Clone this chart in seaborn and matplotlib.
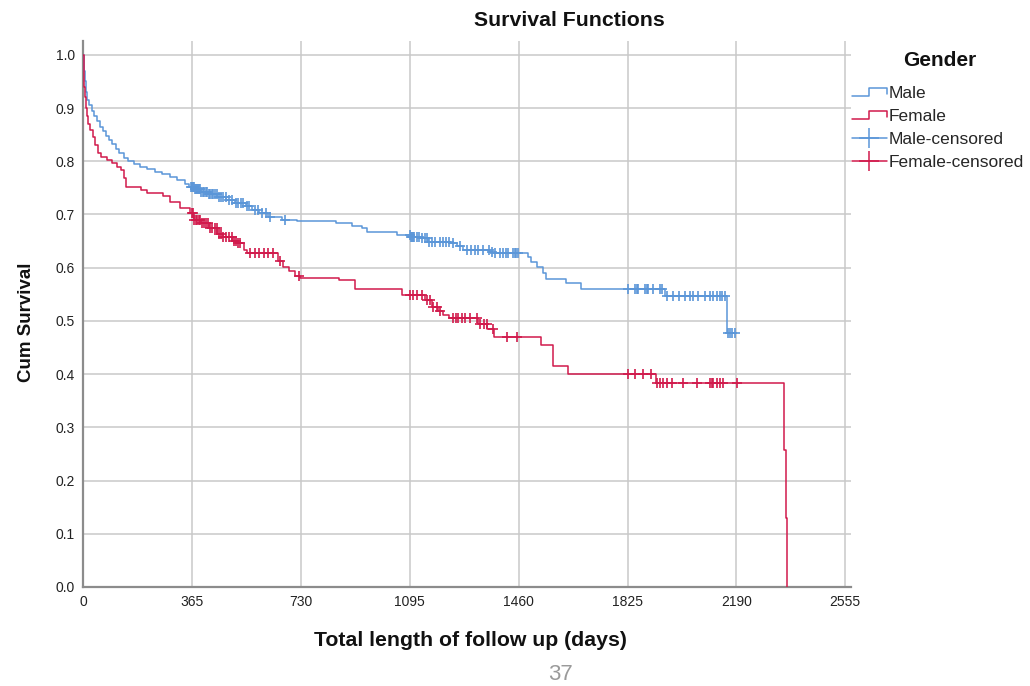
import numpy as np
import pandas as pd
import matplotlib
matplotlib.use("Agg")
import matplotlib.pyplot as plt
import seaborn as sns
from matplotlib.lines import Line2D
from matplotlib.legend_handler import HandlerBase

# ---------------- data ----------------
male_days = [0, 2, 5, 9, 14, 20, 28, 36, 45, 55, 65, 75, 85, 95, 108, 120, 135, 150, 170, 190,
             215, 240, 265, 290, 315, 340, 355, 375, 395, 420, 450, 480, 510, 545, 565, 590, 620,
             665, 715, 846, 900, 933, 950, 1051, 1096, 1130, 1157, 1230, 1252, 1274, 1364, 1375,
             1490, 1502, 1522, 1542, 1550, 1618, 1668, 1950, 2158]
male_surv = [1.0, 0.97, 0.95, 0.93, 0.915, 0.905, 0.895, 0.885, 0.875, 0.865, 0.857, 0.848, 0.84,
             0.832, 0.823, 0.815, 0.807, 0.80, 0.795, 0.79, 0.785, 0.78, 0.776, 0.77, 0.765, 0.758,
             0.752, 0.748, 0.742, 0.738, 0.733, 0.727, 0.722, 0.716, 0.709, 0.703, 0.696, 0.690,
             0.687, 0.684, 0.678, 0.674, 0.668, 0.662, 0.658, 0.655, 0.649, 0.646, 0.640, 0.633,
             0.630, 0.627, 0.621, 0.611, 0.602, 0.590, 0.579, 0.571, 0.560, 0.546, 0.477]
male_censored = [362, 366, 369, 372, 375, 378, 381, 384, 388, 392, 396, 400, 405, 410, 415, 420, 425,
                 430, 436, 442, 448, 455, 462, 470, 478, 490, 500, 512, 520, 530, 537, 548, 555, 575,
                 585, 600, 612, 625, 676,
                 1095, 1098, 1101, 1105, 1110, 1118, 1125, 1135, 1145, 1152, 1160, 1170, 1180, 1196,
                 1205, 1215, 1225, 1240, 1262, 1285, 1300, 1312, 1325, 1340, 1360, 1372, 1380, 1397,
                 1408, 1418, 1425, 1440, 1446, 1452, 1458,
                 1828, 1850, 1856, 1861, 1884, 1889, 1895, 1911, 1934, 1940,
                 1956, 1979, 1999, 2018, 2035, 2046, 2062, 2085, 2101, 2113, 2124, 2135, 2141, 2152,
                 2163, 2168, 2174, 2185]

female_days = [0, 1, 3, 5, 8, 12, 17, 24, 32, 40, 48, 58, 78, 95, 112, 125, 138, 142, 195, 212,
               268, 291, 324, 358, 372, 395, 420, 450, 470, 500, 520, 540, 548, 652, 668, 690, 710,
               725, 858, 912, 1070, 1145, 1168, 1190, 1205, 1225, 1325, 1355, 1378, 1535, 1575,
               1625, 1920, 2350, 2355, 2361]
female_surv = [1.0, 0.97, 0.94, 0.92, 0.90, 0.885, 0.87, 0.858, 0.845, 0.83, 0.815, 0.808, 0.803,
               0.796, 0.79, 0.784, 0.768, 0.752, 0.746, 0.740, 0.734, 0.724, 0.712, 0.702, 0.690,
               0.684, 0.675, 0.664, 0.658, 0.650, 0.646, 0.634, 0.627, 0.612, 0.602, 0.593, 0.585,
               0.580, 0.577, 0.560, 0.549, 0.539, 0.527, 0.518, 0.512, 0.505, 0.495, 0.485, 0.470,
               0.455, 0.415, 0.400, 0.384, 0.257, 0.129, 0.0]
female_censored = [365, 368, 372, 378, 382, 388, 393, 398, 405, 410, 418, 425, 432, 440, 447, 455,
                   462, 470, 480, 490, 498, 505, 512, 520, 527, 560, 575, 590, 605, 620, 635, 660, 722,
                   1096, 1107, 1120, 1135, 1152, 1163, 1174, 1185, 1196, 1241, 1250, 1258, 1269,
                   1280, 1297, 1319, 1331, 1342, 1353, 1375, 1420, 1453,
                   1828, 1850, 1878, 1905, 1925, 1934, 1945, 1956, 1973, 2012, 2057, 2100, 2108,
                   2113, 2124, 2135, 2146, 2191]

groups = ["Male", "Female"]
x_ticks = [0, 365, 730, 1095, 1460, 1825, 2190, 2555]
y_ticks = [0.0, 0.1, 0.2, 0.3, 0.4, 0.5, 0.6, 0.7, 0.8, 0.9, 1.0]
colors = {"Male": "#5b96d8", "Female": "#d11a4c"}

# ---------------- tables ----------------
def step_lookup(days, surv, t):
    idx = np.searchsorted(np.asarray(days), np.asarray(t), side="right") - 1
    return np.asarray(surv)[idx]

curve_rows = []
cens_rows = []
for g, d, s, c in [("Male", male_days, male_surv, male_censored),
                   ("Female", female_days, female_surv, female_censored)]:
    dd = list(d)
    ss = list(s)
    if max(c) > dd[-1]:
        dd.append(max(c))
        ss.append(ss[-1])
    curve_rows.append(pd.DataFrame({"day": dd, "surv": ss, "Gender": g}))
    cens_rows.append(pd.DataFrame({"day": c, "surv": step_lookup(d, s, c), "Gender": g}))
curves = pd.concat(curve_rows, ignore_index=True)
cens = pd.concat(cens_rows, ignore_index=True)

# ---------------- plot ----------------
sns.set_theme(style="white")
plt.rcParams["font.family"] = ["Liberation Sans", "DejaVu Sans"]

W, H = 1030, 686
fig = plt.figure(figsize=(W / 100, H / 100), dpi=100)
ax_left, ax_right, ax_top, ax_bottom = 83.3, 851.2, 41, 587
ax = fig.add_axes([ax_left / W, 1 - ax_bottom / H, (ax_right - ax_left) / W, (ax_bottom - ax_top) / H])

sns.lineplot(data=curves, x="day", y="surv", hue="Gender", hue_order=groups, palette=colors,
             drawstyle="steps-post", estimator=None, legend=False, linewidth=1.1, ax=ax, zorder=3)
for g in groups:
    sub = cens[cens["Gender"] == g]
    ax.plot(sub["day"], sub["surv"], linestyle="none", marker="+", markersize=7.5,
            markeredgewidth=1.2, color=colors[g], zorder=4)

ax.set_xlim(0, 2575)
ax.set_ylim(0, 1.026)
ax.set_xticks(x_ticks)
ax.set_xticklabels([str(v) for v in x_ticks])
ax.set_yticks(y_ticks)
ax.set_yticklabels([f"{v:.1f}" for v in y_ticks])
ax.grid(True, color="#c9c9c9", linewidth=1.1)
ax.set_axisbelow(True)
ax.tick_params(axis="both", length=0, labelsize=10, colors="#222222")
ax.tick_params(axis="x", pad=6)
ax.tick_params(axis="y", pad=6)
for side in ["top", "right"]:
    ax.spines[side].set_visible(False)
for side in ["left", "bottom"]:
    ax.spines[side].set_color("#8c8c8c")
    ax.spines[side].set_linewidth(1.6)
ax.set_xlabel("")
ax.set_ylabel("")

fig.text(569 / W, 1 - 20 / H, "Survival Functions", ha="center", va="center",
         fontsize=15.3, fontweight="bold", color="#111111")
fig.text(470 / W, 1 - 641 / H, "Total length of follow up (days)", ha="center", va="center",
         fontsize=15.3, fontweight="bold", color="#111111")
fig.text(27 / W, 1 - 322 / H, "Cum Survival", ha="center", va="center", rotation=90,
         fontsize=13.5, fontweight="bold", color="#111111")
fig.text(560 / W, 1 / H, "37", ha="center", va="bottom", fontsize=16, color="#9a9a9a")

# ---------------- legend ----------------
class StepHandler(HandlerBase):
    def create_artists(self, legend, orig_handle, xdescent, ydescent, width, height, fontsize, trans):
        x0, y0 = -xdescent, -ydescent
        xs = [x0, x0 + width * 0.5, x0 + width * 0.5, x0 + width, x0 + width]
        ys = [y0 + height * 0.15, y0 + height * 0.15, y0 + height * 0.85, y0 + height * 0.85,
              y0 + height * 0.35]
        return [Line2D(xs, ys, color=orig_handle.get_color(), lw=1.1, transform=trans)]

class StepLine(Line2D):
    pass

handles = [StepLine([], [], color=colors["Male"]),
           StepLine([], [], color=colors["Female"]),
           Line2D([], [], color=colors["Male"], lw=1.1, marker="+", markersize=15, markeredgewidth=1.1),
           Line2D([], [], color=colors["Female"], lw=1.1, marker="+", markersize=15, markeredgewidth=1.1)]
labels = ["Male", "Female", "Male-censored", "Female-censored"]
fig.text(940 / W, 1 - 60 / H, "Gender", ha="center", va="center", fontsize=15,
         fontweight="bold", color="#111111")
leg = fig.legend(handles, labels, loc="upper left",
                 bbox_to_anchor=(852 / W, 1 - 86 / H), frameon=False, fontsize=12.5,
                 handlelength=2.0, handletextpad=0.12, labelspacing=0.45, borderpad=0,
                 borderaxespad=0, handler_map={StepLine: StepHandler()})

fig.savefig("out.png", dpi=100)
